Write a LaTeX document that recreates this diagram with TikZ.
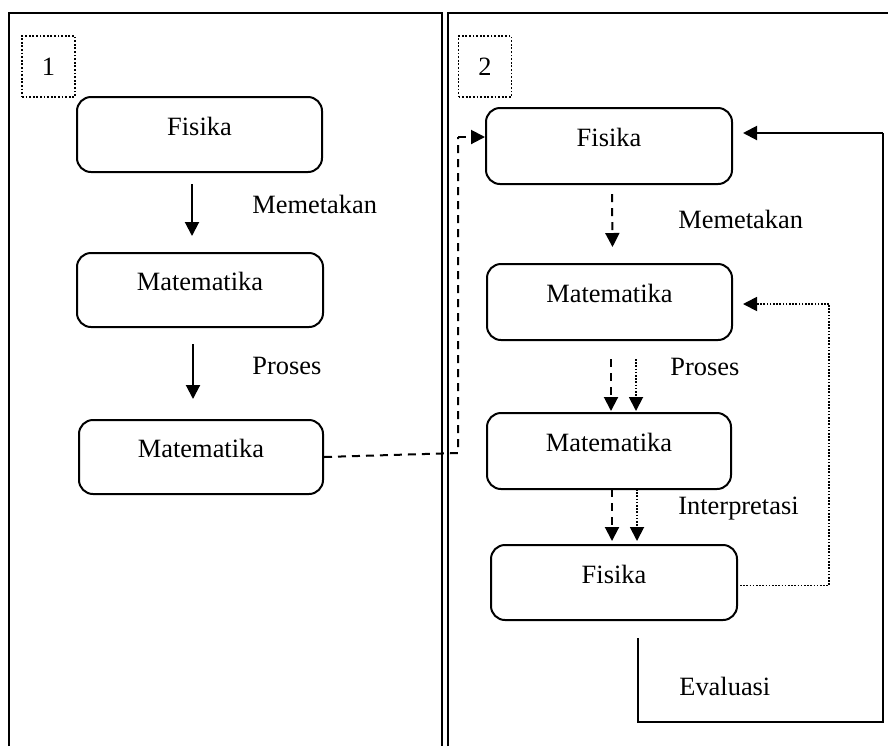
\documentclass[tikz,border=0pt]{standalone}
\usepackage{fontspec}
\setmainfont{Liberation Serif}
\usetikzlibrary{arrows.meta,calc}
\begin{document}
\begin{tikzpicture}[x=0.5pt,y=-0.5pt,
  txt/.style={font=\fontsize{13.2}{15}\selectfont},
  frameline/.style={line width=1pt},
  procbox/.style={txt, draw, line width=1pt, rounded corners=7pt, inner sep=0pt,
    text height=9pt, text depth=8.2pt},
  numbox/.style={txt, draw, line width=0.9pt, dash pattern=on 0.9pt off 0.9pt,
    minimum width=26.5pt, minimum height=30.5pt, inner sep=0pt},
  lbl/.style={txt, anchor=base west, inner sep=0pt},
  tip/.style={-{Triangle[length=7pt,width=7pt]}},
  solidarrow/.style={tip, line width=1pt},
  dasharrow/.style={tip, line width=1pt, dash pattern=on 4pt off 3pt},
  dotarrow/.style={tip, line width=0.9pt, dash pattern=on 0.8pt off 0.8pt},
  dashline/.style={line width=1pt, dash pattern=on 4pt off 3pt},
  dotline/.style={line width=0.9pt, dash pattern=on 0.8pt off 0.8pt}]
\useasboundingbox (0,0) rectangle (888,746);

% panel frames
\draw[frameline] (9,746) -- (9,13) -- (442,13) -- (442,746);
\draw[frameline] (448,746) -- (448,13) -- (888,13);

% panel numbers
\node[numbox] (n1) at (48.5,66.5) {1};
\node[numbox] (n2) at (485,66.5) {2};

% panel 1
\node[procbox, minimum width=122.5pt, minimum height=37.5pt] (lf)  at (199.5,134.5) {Fisika};
\node[procbox, minimum width=123pt,   minimum height=37pt]   (lm1) at (200,290)     {Matematika};
\node[procbox, minimum width=122pt,   minimum height=37pt]   (lm2) at (201,457)     {Matematika};

\draw[solidarrow] ($(lf.south)+(-7.5,11)$) -- ($(lm1.north)+(-8,-16)$);
\draw[solidarrow] ($(lm1.south)+(-7,16)$) -- ($(lm2.north)+(-8,-20)$);
\node[lbl] (l1) at (252,213) {Memetakan};
\node[lbl] (l2) at (252,374) {Proses};

% panel 2
\node[procbox, minimum width=123pt,   minimum height=38pt]   (rf)  at (609,146)     {Fisika};
\node[procbox, minimum width=122.5pt, minimum height=38pt]   (rm1) at (609.5,302)   {Matematika};
\node[procbox, minimum width=122pt,   minimum height=38pt]   (rm2) at (609,451)     {Matematika};
\node[procbox, minimum width=123pt,   minimum height=37.5pt] (rf2) at (614,582.5)   {Fisika};

\draw[dasharrow] ($(rf.south)+(3,9)$)    -- ($(rm1.north)+(3,-16)$);
\draw[dasharrow] ($(rm1.south)+(1.5,18)$) -- ($(rm2.north)+(2,-1)$);
\draw[dotarrow]  ($(rm1.south)+(26.5,18)$) -- ($(rm2.north)+(27,-1)$);
\draw[dasharrow] ($(rm2.south)+(3,-1)$)  -- ($(rf2.north)+(-2,-3)$);
\draw[dotarrow]  ($(rm2.south)+(28,-1)$) -- ($(rf2.north)+(23,-3)$);

\node[lbl] (r1) at (678,228) {Memetakan};
\node[lbl] (r2) at (670,375) {Proses};
\node[lbl] (r3) at (678,514) {Interpretasi};
\node[lbl] (r4) at (679,695) {Evaluasi};

% hand-over from panel 1 to panel 2
\coordinate (h1) at (458,453);
\coordinate (h2) at (458,137);
\draw[dashline] (lm2.east) -- (h1) -- (h2);
\draw[dasharrow] (h2) -- (h2 -| rf.west);

% evaluation loop back to the first box
\coordinate (e0) at ($(rf2.south)+(24,17)$);
\coordinate (e1) at (638,722);
\coordinate (e2) at (883,722);
\coordinate (e3) at (883,133);
\draw[line width=1pt] (e0) -- (e1) -- (e2) -- (e3);
\draw[solidarrow] (e3) -- ($(e3 -| rf.east)+(10,0)$);

% dotted loop back to mathematics
\coordinate (d0) at ($(rf2.east)+(2,3)$);
\coordinate (d1) at (829,585.5);
\coordinate (d2) at (829,304);
\draw[dotline] (d0) -- (d1) -- (d2);
\draw[dotarrow] (d2) -- ($(d2 -| rm1.east)+(10,0)$);
\end{tikzpicture}
\end{document}
